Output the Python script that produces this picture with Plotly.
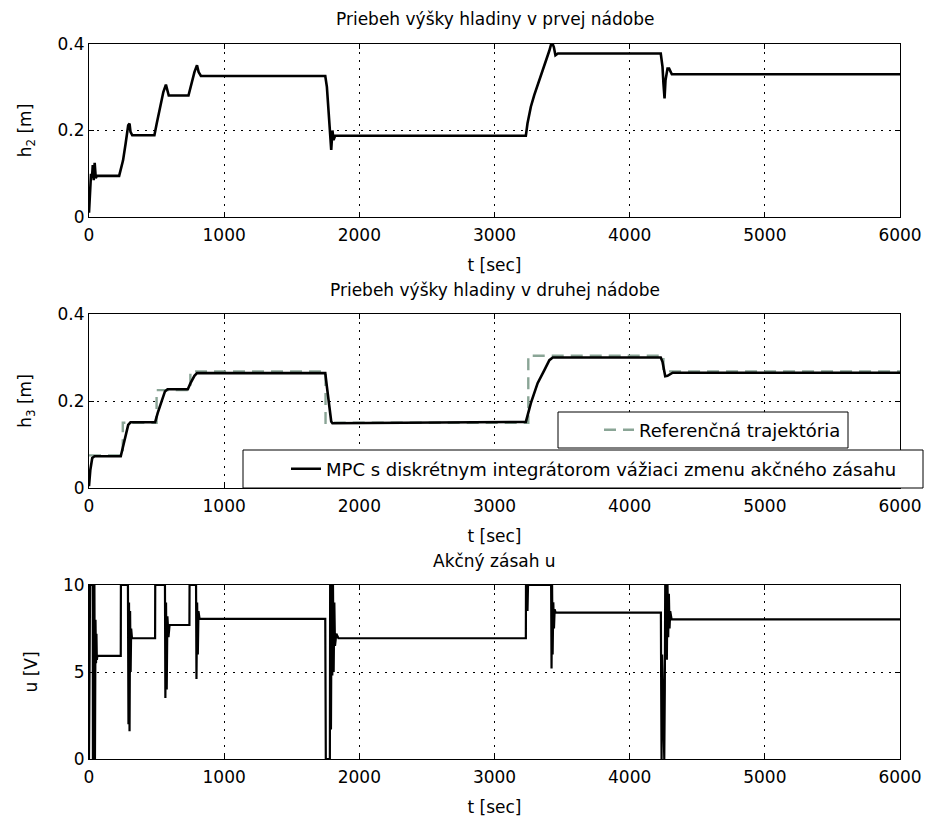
import plotly.graph_objects as go

# ---------------- data ----------------
t_h2 = [0, 8, 15, 22, 28, 35, 42, 50, 58, 223, 252, 271, 290, 300, 307, 320, 484,
        501, 525, 550, 569, 581, 590, 736, 751, 780, 799, 811, 828, 1748,
        1760, 1772, 1785, 1792, 1801, 1809, 1821, 3232, 3244, 3269, 3294, 3332,
        3369, 3406, 3424, 3439, 3451, 3469, 4230, 4243, 4250, 4258, 4265, 4280,
        4292, 4312, 6000]
h2 = [0.01, 0.07, 0.10, 0.09, 0.12, 0.085, 0.125, 0.09, 0.095, 0.095, 0.131, 0.17,
      0.212, 0.216, 0.197, 0.189, 0.189, 0.216, 0.255, 0.289, 0.306, 0.289, 0.281,
      0.281, 0.301, 0.335, 0.351, 0.335, 0.326, 0.326, 0.301, 0.247, 0.193, 0.155,
      0.20, 0.178, 0.188, 0.188, 0.216, 0.255, 0.282, 0.316, 0.351, 0.385, 0.405,
      0.393, 0.374, 0.378, 0.378, 0.347, 0.308, 0.274, 0.316, 0.343, 0.343, 0.330,
      0.330]

t_h3 = [0, 10, 24, 41, 235, 247, 271, 290, 307, 489, 508, 538, 562, 581, 731, 751,
        780, 799, 1748, 1760, 1777, 1792, 1801, 3232, 3269, 3319, 3369, 3406, 3431,
        4230, 4243, 4263, 4280, 4318, 6000]
h3 = [0.004, 0.042, 0.069, 0.073, 0.073, 0.088, 0.119, 0.145, 0.151, 0.151, 0.172,
      0.203, 0.222, 0.227, 0.227, 0.241, 0.258, 0.264, 0.264, 0.233, 0.187, 0.153,
      0.149, 0.152, 0.195, 0.241, 0.271, 0.294, 0.300, 0.300, 0.290, 0.257, 0.258,
      0.265, 0.265]

t_ref = [0, 250, 250, 500, 500, 750, 750, 1750, 1750, 3250, 3250, 4250, 4250, 6000]
h3_ref = [0.075, 0.075, 0.15, 0.15, 0.225, 0.225, 0.268, 0.268, 0.15, 0.15, 0.304,
          0.304, 0.268, 0.268]

t_u = [0, 8, 28, 29, 33, 36, 40, 44, 48, 52, 55, 58, 62, 235, 236, 288, 292, 296, 300,
       304, 308, 312, 318, 489, 490, 562, 565, 570, 575, 580, 588, 596, 743, 744,
       792, 795, 800, 805, 810, 818, 1748, 1750, 1752, 1782, 1784, 1790, 1795, 1800,
       1805, 1810, 1815, 1820, 1830, 1845, 3232, 3233, 3236, 3240, 3244, 3248, 3419,
       3422, 3426, 3430, 3435, 3440, 3445, 3452, 4231, 4233, 4236, 4240, 4256, 4260,
       4263, 4270, 4275, 4280, 4285, 4290, 4295, 4300, 4310, 6000]
u = [0, 10, 10, 0, 10, 0, 10, 0, 8, 5.5, 7.2, 5.7, 5.93, 5.93, 10, 10, 2.0, 9, 1.6,
     8.5, 5, 7.5, 6.94, 6.94, 10, 10, 3.5, 9, 4, 8.2, 7, 7.7, 7.7, 10, 10, 4.6, 9, 6,
     8.5, 8.05, 8.05, 4, 0, 0, 10, 1.7, 10, 4.8, 10, 5, 9, 6.5, 7.2, 6.94, 6.94, 10,
     8.5, 10, 8.5, 10, 10, 5.2, 10, 6, 9, 7.5, 8.6, 8.41, 8.41, 4.3, 0, 6, 0, 4, 10,
     10, 5.7, 10, 7, 9.5, 7.5, 8.5, 8.03, 8.03]

titles = ["Priebeh výšky hladiny v prvej nádobe",
          "Priebeh výšky hladiny v druhej nádobe",
          "Akčný zásah u"]
ylabels = ["h<sub>2</sub> [m]", "h<sub>3</sub> [m]", "u [V]"]
xlabel = "t [sec]"
legend_names = ["Referenčná trajektória",
                "MPC s diskrétnym integrátorom vážiaci zmenu akčného zásahu"]

# ---------------- figure ----------------
FONT = "DejaVu Sans"
FS = 17
W, H = 947, 819
OFF = 8                      # page body margin of the html page
PL, PR, PT, PB = 89, 900, 44, 759   # plot block in page pixels
ML, MR, MT, MB = PL - OFF, W - (PR - OFF), PT - OFF, H - (PB - OFF)
pw, ph = PR - PL, PB - PT


def py(v):
    return (PB - v) / ph


def px(v):
    return (v - PL) / pw


domains = [[py(217), py(44)], [py(488), py(314)], [py(759), py(585)]]
title_shift = [13, 12, 12]

fig = go.Figure()

fig.add_trace(go.Scatter(x=t_h2, y=h2, mode="lines", xaxis="x", yaxis="y",
                         line=dict(color="black", width=2.6), showlegend=False))
fig.add_trace(go.Scatter(x=t_ref, y=h3_ref, mode="lines", xaxis="x2", yaxis="y2",
                         name=legend_names[0], legend="legend",
                         line=dict(color="#8aa596", width=2.4, dash="12px,7px")))
fig.add_trace(go.Scatter(x=t_h3, y=h3, mode="lines", xaxis="x2", yaxis="y2",
                         name=legend_names[1], legend="legend2",
                         line=dict(color="black", width=2.6)))
fig.add_trace(go.Scatter(x=t_u, y=u, mode="lines", xaxis="x3", yaxis="y3",
                         line=dict(color="black", width=2.2), showlegend=False))

yranges = [[0, 0.4], [0, 0.4], [0, 10]]
ydticks = [0.2, 0.2, 5]

common_axis = dict(showline=True, linecolor="black", linewidth=1, mirror="ticks",
                   ticks="inside", ticklen=5, tickcolor="black",
                   showgrid=True, gridcolor="black", griddash="2px,6px", gridwidth=1,
                   zeroline=False, tickfont=dict(family=FONT, size=FS, color="black"))

layout = dict(width=W, height=H, paper_bgcolor="white", plot_bgcolor="white",
              margin=dict(l=ML, r=MR, t=MT, b=MB),
              font=dict(family=FONT, size=FS, color="black"))

annotations = []
for i in range(3):
    sx = "" if i == 0 else str(i + 1)
    layout["xaxis" + sx] = dict(common_axis, domain=[0, 1], range=[0, 6000], dtick=1000,
                                tick0=0, tickformat="d", anchor="y" + sx,
                                ticklabelstandoff=3,
                                title=dict(text=xlabel, standoff=14,
                                           font=dict(family=FONT, size=FS)))
    layout["yaxis" + sx] = dict(common_axis, domain=domains[i], range=yranges[i],
                                dtick=ydticks[i], tick0=0, anchor="x" + sx,
                                title=dict(text=ylabels[i], standoff=21,
                                           font=dict(family=FONT, size=FS)))
    annotations.append(dict(text=titles[i], xref="x%s domain" % sx,
                            yref="y%s domain" % sx, x=0.5, y=1, yanchor="bottom",
                            yshift=title_shift[i], showarrow=False,
                            font=dict(family=FONT, size=FS, color="black")))

layout["annotations"] = annotations

# legend boxes (white, black border) drawn over the data, legends on top of them
shapes = []
for (x0, y0, x1, y1) in [(558, 412, 848, 448), (243, 450, 923, 488)]:
    shapes.append(dict(type="rect", xref="paper", yref="paper",
                       x0=px(x0), x1=px(x1), y0=py(y1), y1=py(y0),
                       fillcolor="white", line=dict(color="black", width=1),
                       layer="above"))
layout["shapes"] = shapes

LFS = 18
layout["legend"] = dict(x=px(599), y=py(430), xanchor="left", yanchor="middle",
                        bgcolor="rgba(0,0,0,0)", borderwidth=0,
                        font=dict(family=FONT, size=LFS, color="black"))
layout["legend2"] = dict(x=px(286), y=py(469), xanchor="left", yanchor="middle",
                         bgcolor="rgba(0,0,0,0)", borderwidth=0,
                         font=dict(family=FONT, size=LFS, color="black"))

fig.update_layout(**layout)
fig.write_html("out.html")
